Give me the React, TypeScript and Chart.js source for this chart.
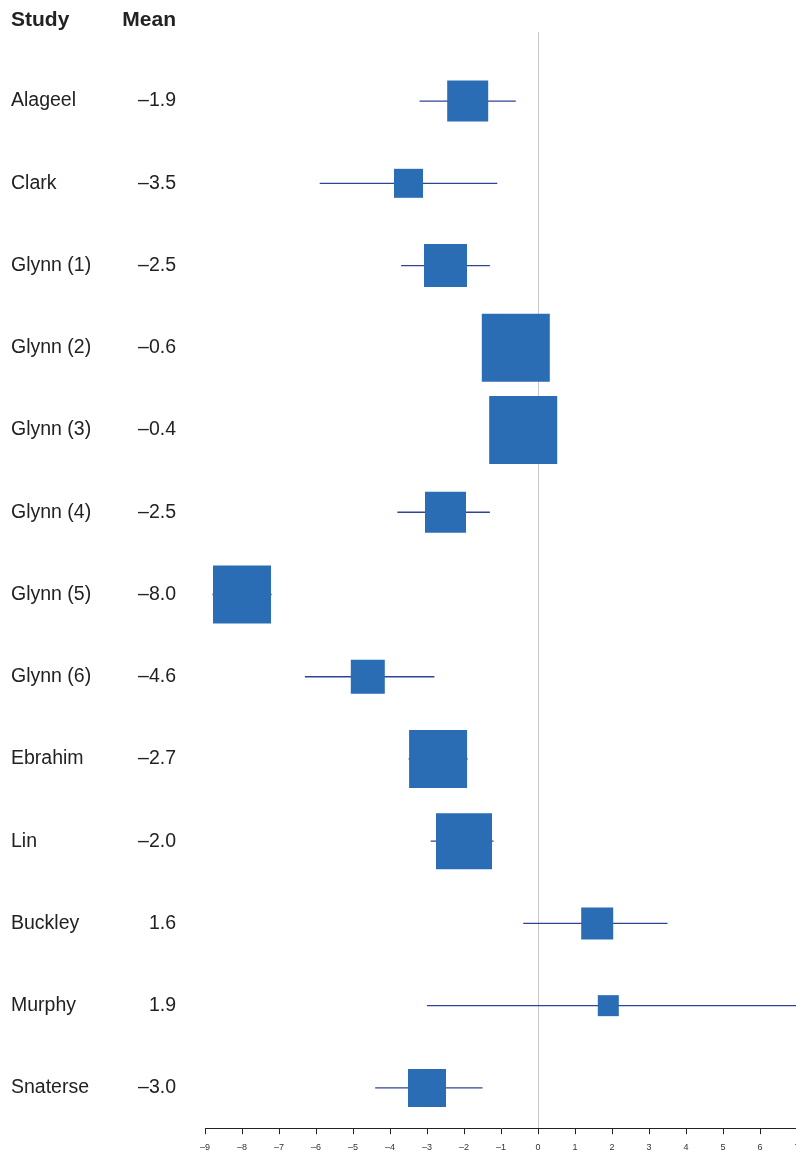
import React, { useEffect, useRef } from "react";
import { Chart, registerables } from "chart.js";

Chart.register(...registerables);

const studies = ["Alageel", "Clark", "Glynn (1)", "Glynn (2)", "Glynn (3)", "Glynn (4)", "Glynn (5)", "Glynn (6)", "Ebrahim", "Lin", "Buckley", "Murphy", "Snaterse"];
const means = [-1.9, -3.5, -2.5, -0.6, -0.4, -2.5, -8.0, -4.6, -2.7, -2.0, 1.6, 1.9, -3.0];
const lower = [-3.2, -5.9, -3.7, -1.5, -1.3, -3.8, -8.8, -6.3, -3.5, -2.9, -0.4, -3.0, -4.4];
const upper = [-0.6, -1.1, -1.3, 0.3, 0.5, -1.3, -7.2, -2.8, -1.9, -1.2, 3.5, 7.5, -1.5];
const weights = [4.1, 2.9, 4.3, 6.8, 6.8, 4.1, 5.8, 3.4, 5.8, 5.6, 3.2, 2.1, 3.8];
const xTicks = [-9, -8, -7, -6, -5, -4, -3, -2, -1, 0, 1, 2, 3, 4, 5, 6, 7];

const BOX = "#2a6db5";
const LINE = "#2e4596";
const FONT = "'Liberation Sans', Arial, Helvetica, sans-serif";
const CANVAS_W = 797;
const CANVAS_H = 1161;

const fmt = (v: number) => (v < 0 ? "\u2013" + Math.abs(v).toFixed(1) : v.toFixed(1));

const labelsPlugin = {
  id: "forestLabels",
  afterDraw(chart: any) {
    const { ctx, scales } = chart;
    const y = scales.y;
    ctx.save();
    ctx.fillStyle = "#222";
    ctx.textBaseline = "middle";
    ctx.font = `bold 21px ${FONT}`;
    ctx.textAlign = "left";
    ctx.fillText("Study", 11, 20);
    ctx.textAlign = "right";
    ctx.fillText("Mean", 176, 20);
    ctx.font = `19.5px ${FONT}`;
    studies.forEach((s, i) => {
      const py = y.getPixelForValue(i);
      ctx.textAlign = "left";
      ctx.fillText(s, 11, py);
      ctx.textAlign = "right";
      ctx.fillText(fmt(means[i]), 176, py);
    });
    ctx.restore();
  },
};

export default function App() {
  const ref = useRef<HTMLCanvasElement | null>(null);
  useEffect(() => {
    if (!ref.current) return;
    const boxData = means.map((m, i) => ({ x: m, y: i }));
    const ciSets = studies.map((s, i) => ({
      type: "line" as const,
      label: s,
      data: [
        { x: lower[i], y: i },
        { x: upper[i], y: i },
      ],
      borderColor: LINE,
      borderWidth: 1.3,
      pointRadius: 0,
      showLine: true,
    }));
    const chart = new Chart(ref.current, {
      type: "scatter",
      data: {
        datasets: [
          {
            label: "Mean",
            data: boxData,
            pointStyle: "rect",
            pointRadius: weights.map((w) => (w * 10) / Math.SQRT2),
            pointHoverRadius: weights.map((w) => (w * 10) / Math.SQRT2),
            backgroundColor: BOX,
            borderWidth: 0,
            clip: false,
          } as any,
          ...ciSets,
        ],
      },
      options: {
        responsive: false,
        animation: false,
        layout: { autoPadding: false, padding: { left: 205, top: 32, right: 0, bottom: 0 } },
        plugins: { legend: { display: false }, tooltip: { enabled: false } },
        scales: {
          x: {
            type: "linear",
            min: -9,
            max: 7,
            afterBuildTicks: (axis: any) => {
              axis.ticks = xTicks.map((v) => ({ value: v }));
            },
            afterFit: (axis: any) => {
              axis.paddingLeft = 0;
              axis.paddingRight = 0;
            },
            border: { display: true, color: "#222", width: 1 },
            grid: {
              color: (c: any) => (c.tick && c.tick.value === 0 ? "#c8c8c8" : "rgba(0,0,0,0)"),
              tickColor: "#222",
              tickLength: 6,
              lineWidth: 1,
            },
            ticks: {
              color: "#333",
              font: { size: 9, family: FONT },
              padding: 8,
              maxRotation: 0,
              callback: (v: any) => (Number(v) < 0 ? "\u2013" + Math.abs(Number(v)) : String(v)),
            },
          },
          y: {
            type: "linear",
            reverse: true,
            min: -0.84,
            max: 12.49,
            display: false,
          },
        },
      },
      plugins: [labelsPlugin],
    });
    return () => chart.destroy();
  }, []);
  return (
    <div style={{ position: "absolute", left: 0, top: 0, width: 796, height: 1152, overflow: "hidden", background: "#fff" }}>
      <div style={{ position: "relative", width: CANVAS_W, height: CANVAS_H }}>
        <canvas ref={ref} width={CANVAS_W} height={CANVAS_H} style={{ display: "block", width: CANVAS_W, height: CANVAS_H }} />
      </div>
    </div>
  );
}
